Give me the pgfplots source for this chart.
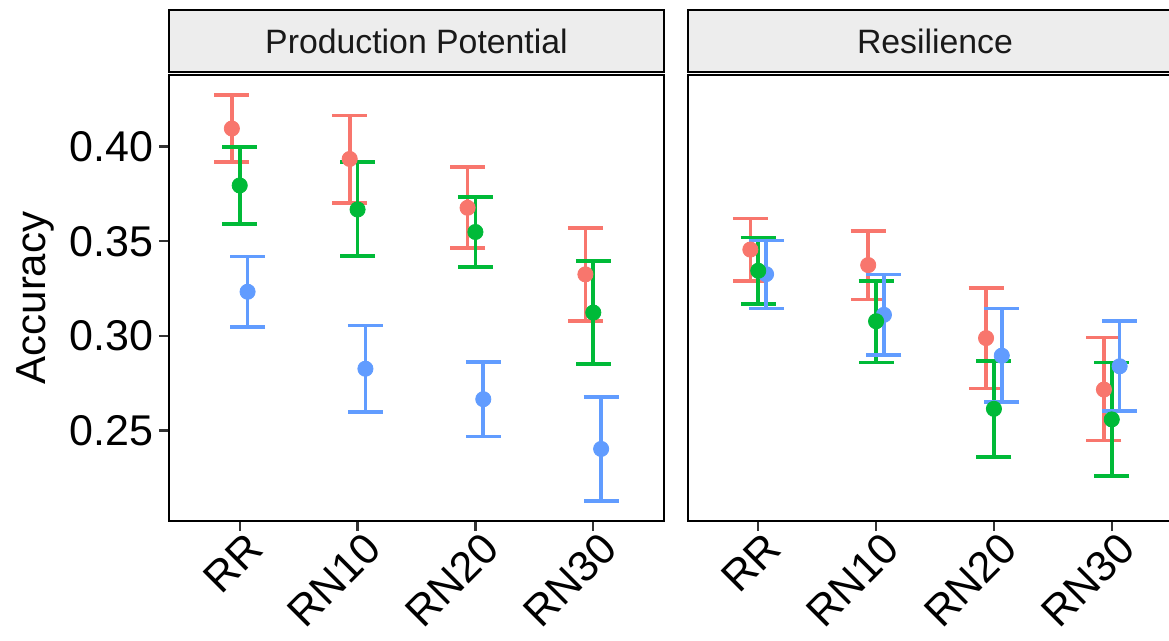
\documentclass[border=0pt]{standalone}
\usepackage{fontspec}
\setmainfont{Liberation Sans}
\usepackage{pgfplots}
\usepackage{pgfplotstable}
\pgfplotsset{compat=1.18}
\definecolor{cred}{HTML}{F8766D}
\definecolor{cgreen}{HTML}{00BA38}
\definecolor{cblue}{HTML}{619CFF}
\definecolor{stripfill}{HTML}{EDEDED}

% Production Potential
\pgfplotstableread{
x y lo hi
1 0.4096 0.3920 0.4272
2 0.3935 0.3702 0.4165
3 0.3677 0.3463 0.3891
4 0.3325 0.3079 0.3570
}\ppred
\pgfplotstableread{
x y lo hi
1 0.3795 0.3591 0.3997
2 0.3668 0.3421 0.3918
3 0.3549 0.3365 0.3735
4 0.3123 0.2851 0.3395
}\ppgreen
\pgfplotstableread{
x y lo hi
1 0.3233 0.3046 0.3420
2 0.2826 0.2598 0.3054
3 0.2665 0.2468 0.2861
4 0.2402 0.2128 0.2675
}\ppblue
% Resilience
\pgfplotstableread{
x y lo hi
1 0.3456 0.3289 0.3621
2 0.3374 0.3193 0.3554
3 0.2988 0.2721 0.3254
4 0.2716 0.2446 0.2991
}\rsred
\pgfplotstableread{
x y lo hi
1 0.3344 0.3168 0.3520
2 0.3077 0.2860 0.3291
3 0.2614 0.2358 0.2868
4 0.2558 0.2258 0.2858
}\rsgreen
\pgfplotstableread{
x y lo hi
1 0.3326 0.3144 0.3504
2 0.3111 0.2900 0.3325
3 0.2895 0.2649 0.3144
4 0.2839 0.2602 0.3079
}\rsblue

\pgfplotsset{
  facet/.style={
    scale only axis, width=247.5pt, height=223pt,
    xmin=0.4, xmax=4.6, ymin=0.2021, ymax=0.4379,
    axis line style={line width=1pt, black},
    xtick={1,2,3,4}, xticklabels={RR,RN10,RN20,RN30},
    xtick pos=bottom, ytick pos=left,
    tick align=outside, major tick length=5pt,
    tick style={line width=1.2pt, black!80},
    xticklabel style={xshift=2.3pt, yshift=0.7pt, rotate=45, anchor=north east, inner sep=0pt,
      font=\fontsize{21.5}{24}\selectfont, text=black},
    yticklabel style={font=\fontsize{21.5}{24}\selectfont, text=black},
    clip=false,
  },
}

\newcommand{\pts}[3]{%
  \addplot[only marks, mark=*, mark size=3.8pt, color=#2, forget plot]
    table[x expr=\thisrow{x}+#3, y=y] {#1};}
\newcommand{\ebs}[3]{%
  \addplot[draw=none, mark=none, forget plot,
    error bars/.cd, y dir=both, y explicit,
    error bar style={draw=#2, line width=1.8pt},
    error mark=|, error mark options={draw=#2, line width=1.8pt, mark size=8.75pt}]
    table[x expr=\thisrow{x}+#3, y=y,
    y error plus expr=\thisrow{hi}-\thisrow{y},
    y error minus expr=\thisrow{y}-\thisrow{lo}] {#1};}

\begin{document}
\begin{tikzpicture}
\begin{axis}[facet, at={(84.5pt,-260.5pt)}, anchor=south west,
  ytick={0.25,0.30,0.35,0.40},
  yticklabel style={anchor=east, inner sep=0pt, xshift=-2.5pt,
    /pgf/number format/.cd, fixed, fixed zerofill, precision=2, assume math mode=true},
  ]
  \pts{\ppblue}{cblue}{0.0667}
  \pts{\ppgreen}{cgreen}{0}
  \pts{\ppred}{cred}{-0.0667}
  \ebs{\ppred}{cred}{-0.0667}
  \ebs{\ppgreen}{cgreen}{0}
  \ebs{\ppblue}{cblue}{0.0667}
\end{axis}
\begin{axis}[facet, at={(343.75pt,-260.5pt)}, anchor=south west,
  ytick=\empty]
  \pts{\rsblue}{cblue}{0.0667}
  \pts{\rsgreen}{cgreen}{0}
  \pts{\rsred}{cred}{-0.0667}
  \ebs{\rsred}{cred}{-0.0667}
  \ebs{\rsgreen}{cgreen}{0}
  \ebs{\rsblue}{cblue}{0.0667}
\end{axis}
% facet strips
\draw[line width=1pt, fill=stripfill] (84.5pt,-5pt) rectangle (332pt,-36pt);
\node[font=\fontsize{16.9}{20}\selectfont, text=black!90] at (208.25pt,-20.5pt) {Production Potential};
\draw[line width=1pt, fill=stripfill] (343.75pt,-5pt) rectangle (600pt,-36pt);
\node[font=\fontsize{16.9}{20}\selectfont, text=black!90] at (467.5pt,-20.5pt) {Resilience};
% axis title
\node[rotate=90, font=\fontsize{21}{24}\selectfont] at (17.5pt,-149pt) {Accuracy};
\pgfresetboundingbox
\useasboundingbox (0,0) rectangle (584.5pt,-320.5pt);
\end{tikzpicture}
\end{document}
